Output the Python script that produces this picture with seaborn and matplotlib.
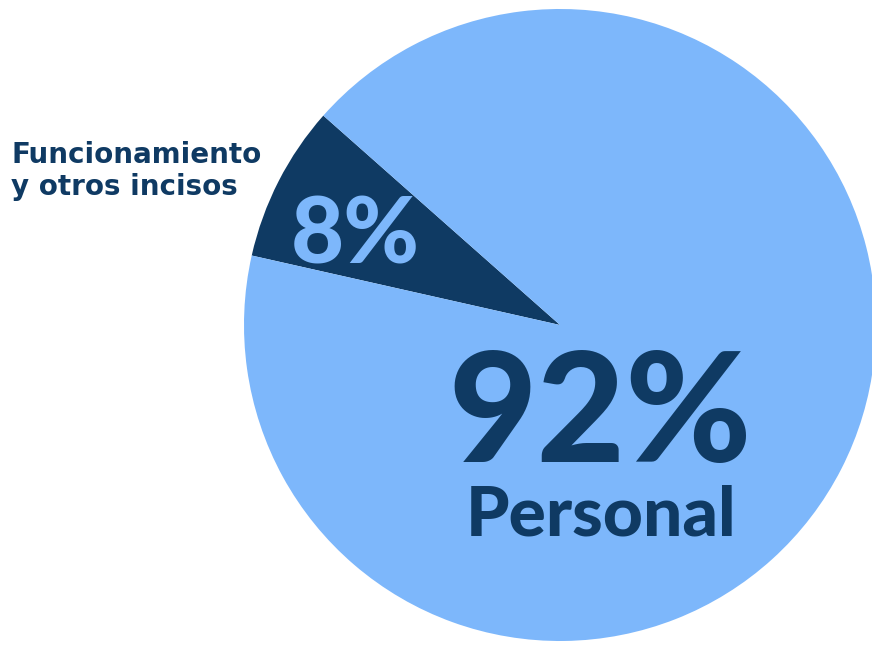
import matplotlib
matplotlib.use("Agg")
import matplotlib.pyplot as plt
import seaborn as sns

# Budget split
categories = ["Funcionamiento y otros incisos", "Personal"]
shares = [8, 92]
share_labels = ["8%", "92%"]

light_blue = "#7db7fb"
dark_blue = "#0f3a63"

sns.set_theme(style="white")
plt.rcParams['font.family'] = ['Lato', 'DejaVu Sans']
colors = sns.color_palette([dark_blue, light_blue])

fig = plt.figure(figsize=(8.72, 6.48), dpi=100)
ax = fig.add_axes([0, 0, 1, 1])

# pixel coords, y pointing down
ax.pie(shares, colors=colors, center=(560, 325), radius=316,
       startangle=-138.5, counterclock=False,
       wedgeprops=dict(linewidth=0))
ax.set_xlim(0, 872)
ax.set_ylim(648, 0)
ax.set_aspect('equal')
ax.axis('off')

ax.text(355, 263, share_labels[0], color=light_blue, fontsize=66,
        fontweight='black', ha='center', va='baseline')
ax.text(600, 462, share_labels[1], color=dark_blue, fontsize=110,
        fontweight='black', ha='center', va='baseline')
ax.text(601, 535, categories[1], color=dark_blue, fontsize=50,
        fontweight='black', ha='center', va='baseline')

first, second = "Funcionamiento", "y otros incisos"
ax.text(11, 163, first, color=dark_blue, fontsize=20, family='DejaVu Sans',
        fontweight='bold', ha='left', va='baseline')
ax.text(11, 195, second, color=dark_blue, fontsize=20, family='DejaVu Sans',
        fontweight='bold', ha='left', va='baseline')

fig.savefig("out.png", dpi=100)
